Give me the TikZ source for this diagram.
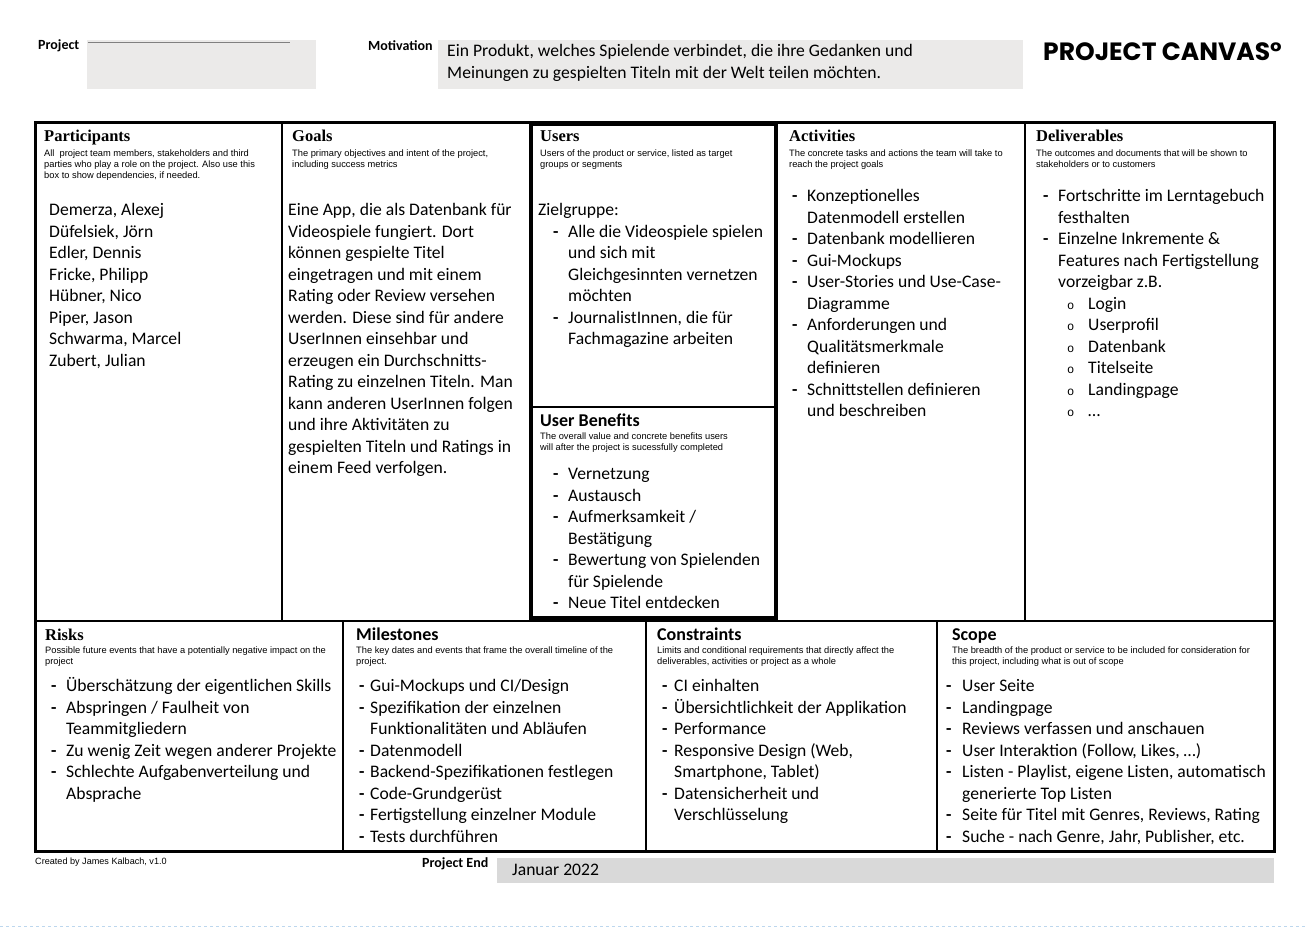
\documentclass[tikz,border=0pt]{standalone}
\usepackage{fontspec}
\setmainfont{Carlito}
\newfontfamily\headfont{Liberation Serif}
\newfontfamily\notefont{Liberation Sans}
\newfontfamily\circfont{Liberation Mono}
\newfontfamily\logofont{Poppins}
\usepackage{xcolor}

\definecolor{fieldgray}{HTML}{EBEAE9}
\definecolor{endgray}{HTML}{D9D9D9}
\definecolor{breakblue}{HTML}{BDD7EE}

\newcommand{\bodysize}{\fontsize{17.6}{21.5}\selectfont}
\newcommand{\notesize}{\notefont\fontsize{9.3}{11}\selectfont}
\newcommand{\lines}[1]{\begin{tabular}{@{}l@{}}#1\end{tabular}}
\newcommand{\dashes}[2]{\begin{tabular}{@{}p{#1}@{}l@{}}#2\end{tabular}}
\newcommand{\dsh}{\textbf{-}}
\newcommand{\sub}[1]{\hspace*{9pt}\makebox[21pt][l]{\circfont\fontsize{12}{12}\selectfont o}#1}

\tikzset{
  boxtitle/.style={anchor=base west, inner sep=0pt, font=\headfont\bfseries\fontsize{16.5}{18}\selectfont},
  sanstitle/.style={anchor=base west, inner sep=0pt, font=\bfseries\fontsize{18}{20}\selectfont},
  note/.style={anchor=north west, inner sep=0pt, font=\notesize},
  body/.style={anchor=north west, inner sep=0pt, font=\bodysize},
  fieldlabel/.style={anchor=west, inner sep=0pt, font=\bfseries\fontsize{14}{16}\selectfont},
  thick rule/.style={line width=3pt},
  rule/.style={line width=2pt},
  thin rule/.style={line width=1.5pt}
}

\begin{document}
\begin{tikzpicture}[x=1pt, y=-1pt]
 \useasboundingbox (0,0) rectangle (1308,930);

 % header
 \fill[fieldgray] (87,40) rectangle (316,89);
 \draw[gray, line width=1pt] (88,42) -- (290,42);
 \fill[fieldgray] (438,40) rectangle (1023,89);
 \node[fieldlabel] (project) at (38,46) {Project};
 \node[fieldlabel] (motivation) at (368,46) {Motivation};
 \node[body, font=\fontsize{17.6}{22}\selectfont] (motivation-text) at (447,40.5)
   {\lines{Ein Produkt, welches Spielende verbindet, die ihre Gedanken und\\
           Meinungen zu gespielten Titeln mit der Welt teilen möchten.}};
 \node[anchor=west, inner sep=0pt, font=\logofont\bfseries\fontsize{25}{28}\selectfont]
   (canvas) at (1043,52) {PROJECT CANVAS°};

 % grid
 \draw[rule] (282,122) -- (282,621);
 \draw[rule] (1025,122) -- (1025,621);
 \draw[rule] (35,621) -- (1274,621);
 \draw[thin rule] (343,621) -- (343,851);
 \draw[thin rule] (646,621) -- (646,851);
 \draw[thin rule] (937,621) -- (937,851);
 \draw[line width=4pt] (531,124) rectangle (776,618);
 \draw[thin rule] (531,407) -- (776,407);
 \draw[thick rule] (35,122) rectangle (1274,851);

 % participants
 \node[boxtitle] (participants) at (44,141) {Participants};
 \node[note] (participants-note) at (44,148.8)
   {\lines{All\ \ project team members, stakeholders and third\\
           parties who play a role on the project. Also use this\\
           box to show dependencies, if needed.}};
 \node[body] (participants-list) at (49,200.5)
   {\lines{Demerza, Alexej\\ Düfelsiek, Jörn\\ Edler, Dennis\\ Fricke, Philipp\\
           Hübner, Nico\\ Piper, Jason\\ Schwarma, Marcel\\ Zubert, Julian}};

 % goals
 \node[boxtitle] (goals) at (292,141) {Goals};
 \node[note] (goals-note) at (292,148.8)
   {\lines{The primary objectives and intent of the project,\\ including success metrics}};
 \node[body] (goals-text) at (288,200.5)
   {\lines{Eine App, die als Datenbank für\\ Videospiele fungiert. Dort\\
           können gespielte Titel\\ eingetragen und mit einem\\
           Rating oder Review versehen\\ werden. Diese sind für andere\\
           UserInnen einsehbar und\\ erzeugen ein Durchschnitts-\\
           Rating zu einzelnen Titeln. Man\\ kann anderen UserInnen folgen\\
           und ihre Aktivitäten zu\\ gespielten Titeln und Ratings in\\
           einem Feed verfolgen.}};

 % users
 \node[boxtitle] (users) at (540,141) {Users};
 \node[note] (users-note) at (540,148.8)
   {\lines{Users of the product or service, listed as target\\ groups or segments}};
 \node[body] (users-group) at (538,200.5) {\lines{Zielgruppe:}};
 \node[body] (users-list) at (553,222)
   {\dashes{15pt}{\dsh & Alle die Videospiele spielen\\ & und sich mit\\
                  & Gleichgesinnten vernetzen\\ & möchten\\
             \dsh & JournalistInnen, die für\\ & Fachmagazine arbeiten}};

 % user benefits
 \node[sanstitle] (benefits) at (540,426) {User Benefits};
 \node[note] (benefits-note) at (540,431.8)
   {\lines{The overall value and concrete benefits users\\
           will after the project is sucessfully completed}};
 \node[body] (benefits-list) at (553,464.5)
   {\dashes{15pt}{\dsh & Vernetzung\\ \dsh & Austausch\\
             \dsh & Aufmerksamkeit /\\ & Bestätigung\\
             \dsh & Bewertung von Spielenden\\ & für Spielende\\
             \dsh & Neue Titel entdecken}};

 % activities
 \node[boxtitle] (activities) at (789,141) {Activities};
 \node[note] (activities-note) at (789,148.8)
   {\lines{The concrete tasks and actions the team will take to\\ reach the project goals}};
 \node[body] (activities-list) at (792,186.5)
   {\dashes{15pt}{\dsh & Konzeptionelles\\ & Datenmodell erstellen\\
             \dsh & Datenbank modellieren\\ \dsh & Gui-Mockups\\
             \dsh & User-Stories und Use-Case-\\ & Diagramme\\
             \dsh & Anforderungen und\\ & Qualitätsmerkmale\\ & definieren\\
             \dsh & Schnittstellen definieren\\ & und beschreiben}};

 % deliverables
 \node[boxtitle] (deliverables) at (1036,141) {Deliverables};
 \node[note] (deliverables-note) at (1036,148.8)
   {\lines{The outcomes and documents that will be shown to\\ stakeholders or to customers}};
 \node[body] (deliverables-list) at (1043,186.5)
   {\dashes{15pt}{\dsh & Fortschritte im Lerntagebuch\\ & festhalten\\
             \dsh & Einzelne Inkremente \&\\ & Features nach Fertigstellung\\
                  & vorzeigbar z.B.\\
                  & \sub{Login}\\ & \sub{Userprofil}\\ & \sub{Datenbank}\\
                  & \sub{Titelseite}\\ & \sub{Landingpage}\\ & \sub{…}}};

 % risks
 \node[boxtitle] (risks) at (45,640) {Risks};
 \node[note] (risks-note) at (45,645.8)
   {\lines{Possible future events that have a potentially negative impact on the\\ project}};
 \node[body] (risks-list) at (51,676.5)
   {\dashes{15pt}{\dsh & Überschätzung der eigentlichen Skills\\
             \dsh & Abspringen / Faulheit von\\ & Teammitgliedern\\
             \dsh & Zu wenig Zeit wegen anderer Projekte\\
             \dsh & Schlechte Aufgabenverteilung und\\ & Absprache}};

 % milestones
 \node[sanstitle] (milestones) at (356,640) {Milestones};
 \node[note] (milestones-note) at (356,645.8)
   {\lines{The key dates and events that frame the overall timeline of the\\ project.}};
 \node[body] (milestones-list) at (359,676.5)
   {\dashes{11pt}{\dsh & Gui-Mockups und CI/Design\\
             \dsh & Spezifikation der einzelnen\\ & Funktionalitäten und Abläufen\\
             \dsh & Datenmodell\\ \dsh & Backend-Spezifikationen festlegen\\
             \dsh & Code-Grundgerüst\\ \dsh & Fertigstellung einzelner Module\\
             \dsh & Tests durchführen}};

 % constraints
 \node[sanstitle] (constraints) at (657,640) {Constraints};
 \node[note] (constraints-note) at (657,645.8)
   {\lines{Limits and conditional requirements that directly affect the\\
           deliverables, activities or project as a whole}};
 \node[body] (constraints-list) at (662,676.5)
   {\dashes{12pt}{\dsh & CI einhalten\\ \dsh & Übersichtlichkeit der Applikation\\
             \dsh & Performance\\ \dsh & Responsive Design (Web,\\
                  & Smartphone, Tablet)\\ \dsh & Datensicherheit und\\
                  & Verschlüsselung}};

 % scope
 \node[sanstitle] (scope) at (952,640) {Scope};
 \node[note] (scope-note) at (952,645.8)
   {\lines{The breadth of the product or service to be included for consideration for\\
           this project, including what is out of scope}};
 \node[body] (scope-list) at (946,676.5)
   {\dashes{16pt}{\dsh & User Seite\\ \dsh & Landingpage\\
             \dsh & Reviews verfassen und anschauen\\
             \dsh & User Interaktion (Follow, Likes, …)\\
             \dsh & Listen - Playlist, eigene Listen, automatisch\\
                  & generierte Top Listen\\
             \dsh & Seite für Titel mit Genres, Reviews, Rating\\
             \dsh & Suche - nach Genre, Jahr, Publisher, etc.}};

 % footer
 \fill[endgray] (497,858) rectangle (1274,883);
 \node[anchor=west, inner sep=0pt, font=\notefont\fontsize{9.1}{10}\selectfont]
   (credit) at (35,862) {Created by James Kalbach, v1.0};
 \node[fieldlabel] (project-end) at (422,864) {Project End};
 \node[anchor=west, inner sep=0pt, font=\fontsize{17.6}{20}\selectfont]
   (end-date) at (512,870) {Januar 2022};
 \draw[breakblue, dashed, line width=1pt] (0,926) -- (1308,926);
\end{tikzpicture}
\end{document}
